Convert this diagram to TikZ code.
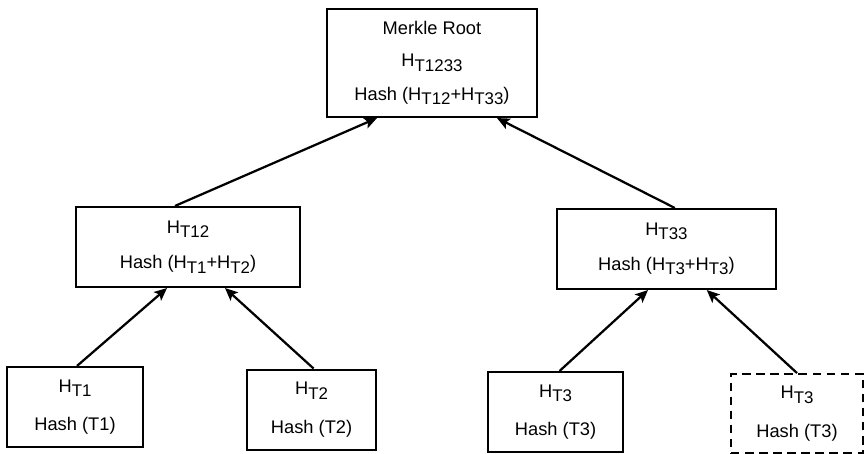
\documentclass[tikz,border=0pt]{standalone}
\usepackage{fontspec}
\setmainfont{Liberation Sans}
\usetikzlibrary{arrows.meta}
\newcommand{\hsub}[1]{H\raisebox{-0.45ex}{\fontsize{12}{12}\selectfont #1}}

\begin{document}
\begin{tikzpicture}[
  box/.style={draw,line width=1.5pt,align=center,inner sep=0pt,font=\fontsize{13}{16}\selectfont},
  leaf/.style={box,minimum height=2cm},
  link/.style={-{Stealth[length=9pt,width=8pt,inset=2pt]},line width=1.6pt}]
  \useasboundingbox (0,0) rectangle (21.6,-11.35);
  \node[box,minimum width=5.25cm,minimum height=2.7cm] (root) at (10.8,-1.575) {Merkle Root\\[7pt]\hsub{T1233}\\[8pt]Hash (\hsub{T12}+\hsub{T33})};
  \node[box,minimum width=5.6cm,minimum height=2cm] (h12) at (4.7,-6.175) {\hsub{T12}\\[9pt]Hash (\hsub{T1}+\hsub{T2})};
  \node[box,minimum width=5.475cm,minimum height=2cm] (h33) at (16.66,-6.225) {\hsub{T33}\\[9pt]Hash (\hsub{T3}+\hsub{T3})};
  \node[leaf,minimum width=3.4cm] (h1) at (1.875,-10.175) {\hsub{T1}\\[11.5pt]Hash (T1)};
  \node[leaf,minimum width=3.225cm] (h2) at (7.79,-10.24) {\hsub{T2}\\[11.5pt]Hash (T2)};
  \node[leaf,minimum width=3.375cm] (h3) at (13.89,-10.3) {\hsub{T3}\\[11.5pt]Hash (T3)};
  \node[leaf,minimum width=3.3cm,minimum height=1.975cm,dash pattern=on 6pt off 4pt] (h3c) at (19.925,-10.34) {\hsub{T3}\\[11.5pt]Hash (T3)};
  \draw[link] ([xshift=0.05cm]h1.north) -- ([xshift=-0.525cm]h12.south);
  \draw[link] ([xshift=0.05cm]h2.north) -- ([xshift=0.925cm]h12.south);
  \draw[link] ([xshift=0.1cm]h3.north) -- ([xshift=-0.46cm]h33.south);
  \draw[link] (h3c.north) -- ([xshift=1.01cm]h33.south);
  \draw[link] ([xshift=-0.325cm]h12.north) -- ([xshift=-1.375cm]root.south);
  \draw[link] ([xshift=0.21cm]h33.north) -- ([xshift=1.625cm]root.south);
\end{tikzpicture}
\end{document}
